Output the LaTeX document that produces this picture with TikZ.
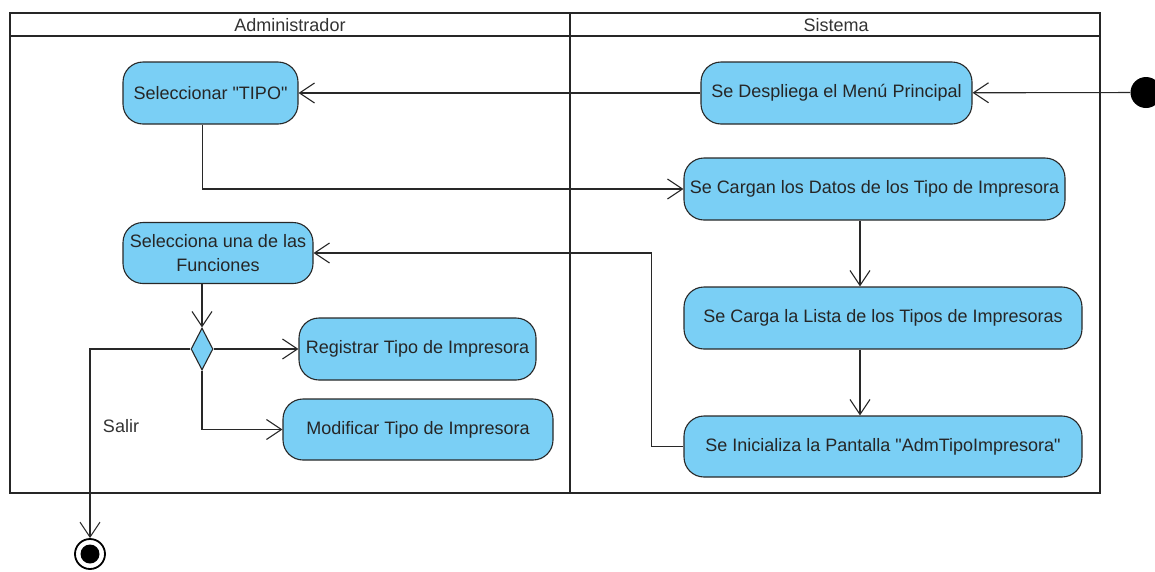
\documentclass[tikz,border=0pt]{standalone}
\usepackage{fontspec}
\setmainfont{Liberation Sans}[Ligatures=TeXOff]
\usetikzlibrary{arrows.meta,shapes.geometric}
\definecolor{actfill}{RGB}{122,207,245}
\definecolor{edgec}{RGB}{40,40,40}
\begin{document}
\begin{tikzpicture}[x=1pt,y=-1pt,
  act/.style={draw=edgec, fill=actfill, line width=1.1pt, rounded corners=20pt, inner sep=0pt,
    font=\fontsize{18}{24}\selectfont, text=black!85, align=center},
  flow/.style={draw=edgec, line width=1.1pt, -{Straight Barb[length=15pt,width=20pt]}},
  lane/.style={draw=black!85, line width=2.8pt},
  lbl/.style={font=\fontsize{18}{22}\selectfont, text=black!80}
]
\useasboundingbox (0,0) rectangle (1155,571);
% swimlanes
\draw[lane] (10,13) rectangle (1100,493);
\draw[lane] (10,36) -- (1100,36);
\draw[lane] (570,13) -- (570,493);
\node[lbl] (hA) at (290,25) {Administrador};
\node[lbl] (hS) at (836,25) {Sistema};
% activities
\node[act, minimum width=175pt, minimum height=62pt] (sel) at (210.5,93) {Seleccionar "TIPO"};
\node[act, minimum width=271pt, minimum height=62pt] (desp) at (836.5,93) {Se Despliega el Menú Principal};
\node[act, minimum width=381pt, minimum height=62pt] (carg) at (874.5,189) {Se Cargan los Datos de los Tipo de Impresora};
\node[act, minimum width=398pt, minimum height=62pt] (lista) at (883,318) {Se Carga la Lista de los Tipos de Impresoras};
\node[act, minimum width=398pt, minimum height=61pt] (ini) at (883,446.5) {Se Inicializa la Pantalla "AdmTipoImpresora"};
\node[act, minimum width=190pt, minimum height=61pt] (func) at (218,253) {Selecciona una de las\\Funciones};
\node[act, minimum width=237pt, minimum height=62pt] (reg) at (417.5,349) {Registrar Tipo de Impresora};
\node[act, minimum width=270pt, minimum height=61pt] (mod) at (418,429.5) {Modificar Tipo de Impresora};
\node[diamond, draw=edgec, fill=actfill, line width=1.1pt, inner sep=0pt, minimum width=22pt, minimum height=42pt] (dec) at (202,349) {};
% initial and final
\node[circle, fill=black, minimum size=31pt, inner sep=0pt] (init) at (1146,92.5) {};
\node[circle, draw=black, line width=1.8pt, minimum size=30pt, inner sep=0pt,
  path picture={\fill[black] (path picture bounding box.center) circle (9.5pt);}] (fin) at (90,554) {};
\coordinate (vx) at (860,0);
% flows
\draw[flow] (init) -- (desp);
\draw[flow] (desp) -- (sel);
\draw[flow] ([xshift=-8pt]sel.south) |- (carg.west);
\draw[flow] (carg.south -| vx) -- (lista.north -| vx);
\draw[flow] (lista.south -| vx) -- (ini.north -| vx);
\draw[flow] (ini.west) -- ++(-32,0) |- (func.east);
\draw[flow] (dec.north |- func.south) -- (dec.north);
\draw[flow] (dec.east) -- (reg.west);
\draw[flow] (dec.south) |- (mod.west);
\draw[flow] (dec.west) -| (fin.north);
\node[lbl] (salir) at (121,426) {Salir};
\end{tikzpicture}
\end{document}
